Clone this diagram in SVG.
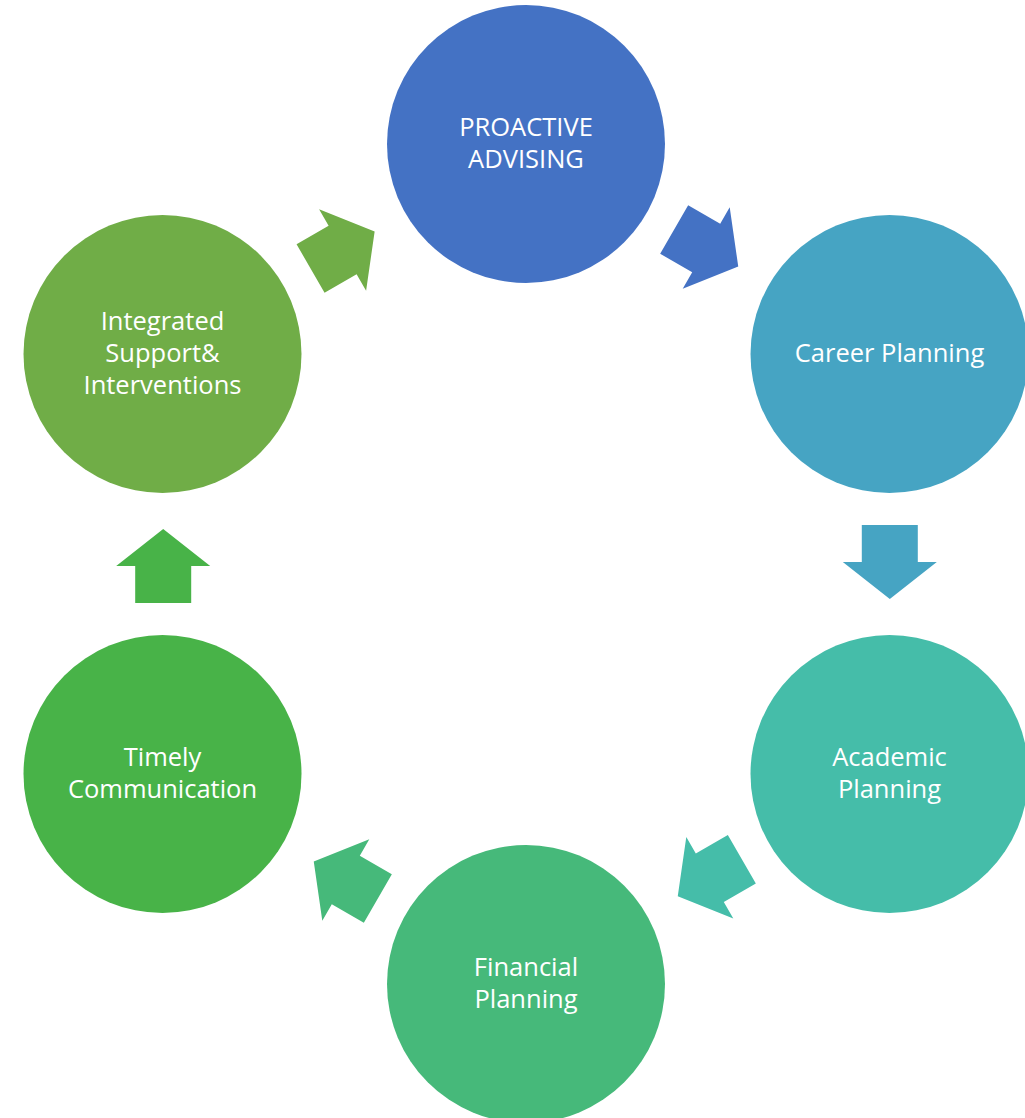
<svg xmlns="http://www.w3.org/2000/svg" width="1025" height="1118" viewBox="0 0 1025 1118">
<style>
  .lbl { font-family: "Open Sans", "DejaVu Sans", sans-serif; font-size: 25.5px; fill: #ffffff; text-anchor: middle; }
</style>
<defs>
  <path id="arr" d="M -37 -28 H 0 V -47 L 37 0 L 0 47 V 28 H -37 Z"/>
</defs>
<rect x="0" y="0" width="1025" height="1118" fill="#ffffff"/>

<g id="connectors">
  <use href="#arr" fill="#4472C4" transform="translate(706.2 248) rotate(30)"/>
  <use href="#arr" fill="#46A4C3" transform="translate(889.8 562) rotate(90)"/>
  <use href="#arr" fill="#45BDA9" transform="translate(709.8 877.8) rotate(150)"/>
  <use href="#arr" fill="#46B97A" transform="translate(345.8 880) rotate(210)"/>
  <use href="#arr" fill="#48B348" transform="translate(163.2 566) rotate(270)"/>
  <use href="#arr" fill="#70AD47" transform="translate(342.6 250) rotate(330)"/>
</g>

<g id="node-proactive">
  <circle cx="526" cy="144" r="139" fill="#4472C4"/>
  <text class="lbl" x="526" y="136">PROACTIVE</text>
  <text class="lbl" x="526" y="168">ADVISING</text>
</g>
<g id="node-career">
  <circle cx="889.5" cy="354" r="139" fill="#46A4C3"/>
  <text class="lbl" x="889.5" y="362">Career Planning</text>
</g>
<g id="node-academic">
  <circle cx="889.5" cy="774" r="139" fill="#45BDA9"/>
  <text class="lbl" x="889.5" y="766">Academic</text>
  <text class="lbl" x="889.5" y="798">Planning</text>
</g>
<g id="node-financial">
  <circle cx="526" cy="984" r="139" fill="#46B97A"/>
  <text class="lbl" x="526" y="976">Financial</text>
  <text class="lbl" x="526" y="1008">Planning</text>
</g>
<g id="node-timely">
  <circle cx="162.5" cy="774" r="139" fill="#48B348"/>
  <text class="lbl" x="162.5" y="766">Timely</text>
  <text class="lbl" x="162.5" y="798">Communication</text>
</g>
<g id="node-integrated">
  <circle cx="162.5" cy="354" r="139" fill="#70AD47"/>
  <text class="lbl" x="162.5" y="329.5">Integrated</text>
  <text class="lbl" x="162.5" y="361.5">Support&amp;</text>
  <text class="lbl" x="162.5" y="393.5">Interventions</text>
</g>
</svg>
